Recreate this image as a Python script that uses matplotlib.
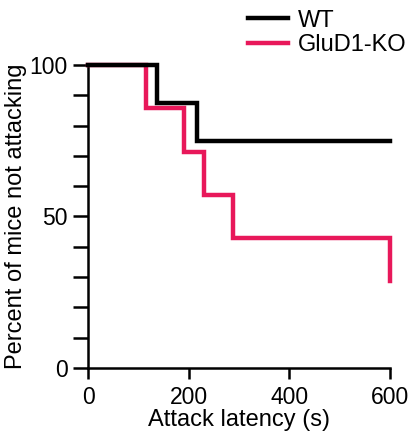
import matplotlib
matplotlib.use('Agg')
import matplotlib.pyplot as plt
from matplotlib.ticker import MultipleLocator

plt.rcParams['font.family'] = ['Liberation Sans', 'DejaVu Sans']

# survival curve data (time in s, percent not attacking)
wt_t = [0, 138, 216, 600]
wt_y = [100, 87.5, 75, 75]
ko_t = [0, 115, 191, 231, 289, 600]
ko_y = [100, 85.7, 71.4, 57.1, 42.9, 28.6]

xticks = [0, 200, 400, 600]
yticks = [0, 50, 100]

pink = '#E8185A'

fig = plt.figure(figsize=(4.12, 4.42), dpi=100)
ax = fig.add_axes([0.2136, 0.1674, 0.733, 0.6856])

ax.step(ko_t, ko_y, where='post', color=pink, lw=3.2, label='GluD1-KO',
        clip_on=False, zorder=3, solid_joinstyle='miter')
ax.step(wt_t, wt_y, where='post', color='black', lw=3.2, label='WT',
        clip_on=False, zorder=4, solid_joinstyle='miter')

ax.set_xlim(0, 600)
ax.set_ylim(0, 100)
ax.set_xticks(xticks)
ax.set_yticks(yticks)
ax.yaxis.set_minor_locator(MultipleLocator(10))

for s in ['top', 'right']:
    ax.spines[s].set_visible(False)
for s in ['left', 'bottom']:
    ax.spines[s].set_linewidth(1.8)

ax.tick_params(which='both', direction='out', length=10.5, width=1.8,
               labelsize=16.5, colors='black', pad=4)
ax.tick_params(axis='x', length=8, pad=5)

ax.set_xlabel('Attack latency (s)', fontsize=17, labelpad=0)
ax.set_ylabel('Percent of mice not attacking', fontsize=17, labelpad=2)

h, l = ax.get_legend_handles_labels()
fig.legend(h[::-1], l[::-1], loc='upper right', bbox_to_anchor=(1.022, 1.01),
           frameon=False, fontsize=17, handlelength=1.7, handletextpad=0.45,
           labelspacing=0.1, borderaxespad=0.2)

fig.savefig('out.png', dpi=100)
